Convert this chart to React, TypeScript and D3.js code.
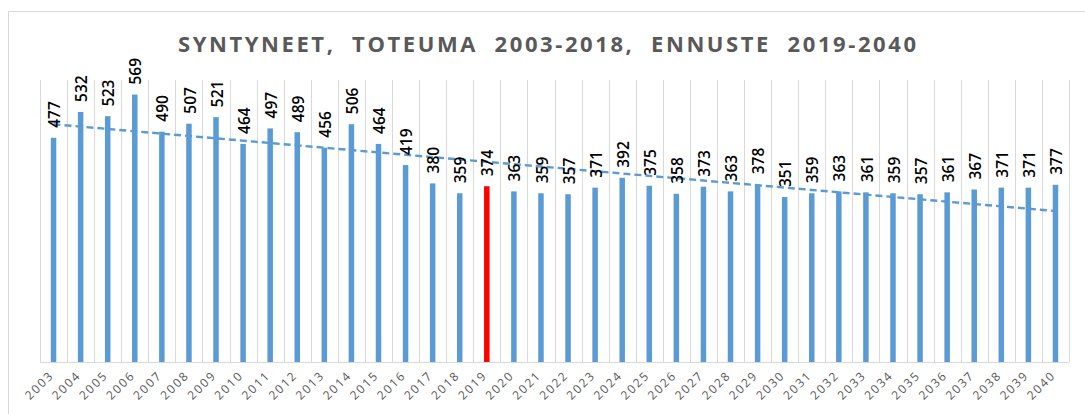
import React from "react";
import * as d3 from "d3";

const years: string[] = [
  "2003","2004","2005","2006","2007","2008","2009","2010","2011","2012",
  "2013","2014","2015","2016","2017","2018","2019","2020","2021","2022",
  "2023","2024","2025","2026","2027","2028","2029","2030","2031","2032",
  "2033","2034","2035","2036","2037","2038","2039","2040",
];
const births: number[] = [
  477, 532, 523, 569, 490, 507, 521, 464, 497, 489,
  456, 506, 464, 419, 380, 359, 374, 363, 359, 357,
  371, 392, 375, 358, 373, 363, 378, 351, 359, 363,
  361, 359, 357, 361, 367, 371, 371, 377,
];
const highlightYear = "2019";
const title = "SYNTYNEET,  TOTEUMA  2003-2018,  ENNUSTE  2019-2040";

const W = 1085;
const H = 414;
const plotLeft = 40;
const plotRight = 1069;
const plotTop = 80;
const plotBottom = 362;
const BLUE = "#5B9BD5";
const RED = "#FF0000";
const GRID = "#D9D9D9";

export default function App() {
  const x = d3.scaleBand<string>().domain(years).range([plotLeft, plotRight]).padding(0);
  const y = d3.scaleLinear().domain([0, 600]).range([plotBottom, plotTop]);
  const bw = 5.5;

  // linear trend (least squares)
  const n = births.length;
  const idx = d3.range(n);
  const mx = d3.mean(idx) as number;
  const my = d3.mean(births) as number;
  const sxy = d3.sum(idx, (i) => (i - mx) * (births[i] - my));
  const sxx = d3.sum(idx, (i) => (i - mx) * (i - mx));
  const slope = sxy / sxx;
  const intercept = my - slope * mx;
  const cx = (i: number) => (x(years[i]) as number) + x.bandwidth() / 2;
  const trend = d3
    .line<number>()
    .x((i) => cx(i))
    .y((i) => y(intercept + slope * i));

  const boundaries = d3.range(n + 1).map((i) => plotLeft + i * x.bandwidth());

  return (
    <svg
      width={W}
      height={H}
      style={{ position: "absolute", left: 0, top: 0, background: "#fff" }}
    >
      <rect x={0} y={0} width={W} height={H} fill="#fff" />
      <rect x={8.5} y={11.5} width={1200} height={600} fill="none" stroke={GRID} strokeWidth={1} />
      <text
        x={547}
        y={52}
        textAnchor="middle"
        fontFamily="'Open Sans', sans-serif"
        fontWeight={700}
        fontSize={22}
        fill="#595959"
        textLength={738}
        lengthAdjust="spacing"
        style={{ whiteSpace: "pre" }}
      >
        {title}
      </text>
      {boundaries.map((bx, i) => (
        <line
          key={"g" + i}
          x1={Math.round(bx) + 0.5}
          x2={Math.round(bx) + 0.5}
          y1={plotTop}
          y2={plotBottom}
          stroke={GRID}
          strokeWidth={1}
        />
      ))}
      <line x1={plotLeft} x2={plotRight} y1={plotBottom + 0.5} y2={plotBottom + 0.5} stroke={GRID} strokeWidth={1} />
      {births.map((v, i) => (
        <rect
          key={"b" + i}
          x={cx(i) - bw / 2}
          y={y(v)}
          width={bw}
          height={plotBottom - y(v)}
          fill={years[i] === highlightYear ? RED : BLUE}
        />
      ))}
      <path
        d={trend(idx) as string}
        fill="none"
        stroke={BLUE}
        strokeWidth={2.4}
        strokeDasharray="7,4"
      />
      {births.map((v, i) => {
        const tx = cx(i) + 1;
        const ty = y(v) - 10;
        return (
          <text
            key={"l" + i}
            transform={`translate(${tx},${ty}) rotate(-90)`}
            dy="0.36em"
            fontFamily="'Open Sans', sans-serif"
            fontWeight={600}
            fontSize={15.5}
            fill="#000"
          >
            {v}
          </text>
        );
      })}
      {years.map((yr, i) => {
        const tx = cx(i) + 1;
        const ty = plotBottom + 14;
        return (
          <text
            key={"x" + i}
            transform={`translate(${tx},${ty}) rotate(-45)`}
            textAnchor="end"
            fontFamily="'Open Sans', sans-serif"
            fontSize={12}
            letterSpacing={1.8}
            fill="#595959"
          >
            {yr}
          </text>
        );
      })}
    </svg>
  );
}
